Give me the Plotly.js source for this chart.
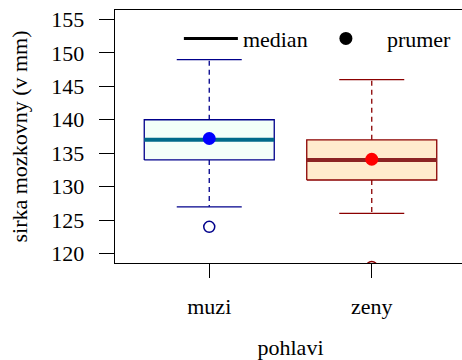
<!DOCTYPE html>
<html>
<head>
<meta charset="utf-8">
<script src="https://cdn.plot.ly/plotly-3.0.1.min.js"></script>
<style>
  html, body { margin: 0; padding: 0; overflow: hidden; background: #ffffff; }
  #chart { width: 466px; height: 360px; }
</style>
</head>
<body>
<div id="chart"></div>
<script>
// ---- data ----
var categories = ['muzi', 'zeny'];
var q1 = [134, 131];
var medians = [137, 134];
var q3 = [140, 137];
var lowerWhisker = [127, 126];
var upperWhisker = [149, 146];
var means = [137.2, 134.1];
var outliers = [[124], [118]];
var yTicks = [120, 125, 130, 135, 140, 145, 150, 155];

// ---- styles ----
var borderColors = ['#00008B', '#8B0000'];
var fillColors = ['#F3FFF9', '#FFEBCD'];
var medianColors = ['#006A8A', '#8B2323'];
var meanColors = ['#0000FF', '#FF0000'];
var FONT = 'Liberation Serif, Times New Roman, serif';
var boxHalf = 0.4, capHalf = 0.2;

var traces = [];
categories.forEach(function (cat, i) {
  var p = i + 1;
  // box
  traces.push({
    type: 'scatter', mode: 'lines', showlegend: false, hoverinfo: 'skip',
    x: [p - boxHalf, p + boxHalf, p + boxHalf, p - boxHalf, p - boxHalf],
    y: [q1[i], q1[i], q3[i], q3[i], q1[i]],
    fill: 'toself', fillcolor: fillColors[i],
    line: { color: borderColors[i], width: 1.3 }
  });
  // whiskers (dashed)
  traces.push({
    type: 'scatter', mode: 'lines', showlegend: false, hoverinfo: 'skip',
    x: [p, p, null, p, p],
    y: [q3[i], upperWhisker[i], null, q1[i], lowerWhisker[i]],
    line: { color: borderColors[i], width: 1.3, dash: '5px,4px' }
  });
  // caps
  traces.push({
    type: 'scatter', mode: 'lines', showlegend: false, hoverinfo: 'skip',
    x: [p - capHalf, p + capHalf, null, p - capHalf, p + capHalf],
    y: [upperWhisker[i], upperWhisker[i], null, lowerWhisker[i], lowerWhisker[i]],
    line: { color: borderColors[i], width: 1.3 }
  });
  // median
  traces.push({
    type: 'scatter', mode: 'lines', showlegend: false, hoverinfo: 'skip',
    x: [p - boxHalf, p + boxHalf],
    y: [medians[i], medians[i]],
    line: { color: medianColors[i], width: 4 }
  });
  // outliers
  traces.push({
    type: 'scatter', mode: 'markers', showlegend: false, hoverinfo: 'skip',
    x: outliers[i].map(function () { return p; }),
    y: outliers[i],
    marker: { symbol: 'circle-open', size: 11, color: borderColors[i], line: { width: 1.5, color: borderColors[i] } }
  });
  // mean
  traces.push({
    type: 'scatter', mode: 'markers', showlegend: false, hoverinfo: 'skip',
    x: [p], y: [means[i]],
    marker: { symbol: 'circle', size: 13, color: meanColors[i] }
  });
});

// legend entries
traces.push({
  type: 'scatter', mode: 'lines', name: 'median', legend: 'legend',
  x: [null], y: [null], line: { color: '#000000', width: 3 }
});
traces.push({
  type: 'scatter', mode: 'markers', name: 'prumer', legend: 'legend2',
  x: [null], y: [null], marker: { color: '#000000', size: 13 }
});

var layout = {
  width: 466, height: 360,
  margin: { l: 115, r: 0, t: 10, b: 97, pad: 0 },
  paper_bgcolor: '#ffffff', plot_bgcolor: '#ffffff',
  font: { family: FONT, size: 22, color: '#000000' },
  hovermode: false,
  showlegend: true,
  legend: {
    x: 0.182, y: 0.97, xanchor: 'left', yanchor: 'top',
    bgcolor: 'rgba(0,0,0,0)', borderwidth: 0, itemwidth: 54,
    font: { family: FONT, size: 22, color: '#000000' }
  },
  legend2: {
    x: 0.541, y: 0.97, xanchor: 'left', yanchor: 'top',
    bgcolor: 'rgba(0,0,0,0)', borderwidth: 0, itemwidth: 72,
    font: { family: FONT, size: 22, color: '#000000' }
  },
  xaxis: {
    range: [0.42, 2.58],
    tickmode: 'array', tickvals: [1, 2], ticktext: categories,
    ticks: 'outside', ticklen: 14, tickwidth: 1.3, tickcolor: '#000000',
    ticklabelstandoff: 9,
    showline: true, linecolor: '#000000', linewidth: 1.3, mirror: true,
    showgrid: false, zeroline: false,
    tickfont: { family: FONT, size: 22 },
    title: { text: 'pohlavi', font: { family: FONT, size: 22 }, standoff: 25 }
  },
  yaxis: {
    range: [118.6, 156.4],
    tickmode: 'array', tickvals: yTicks, ticktext: yTicks.map(String),
    ticks: 'outside', ticklen: 15, tickwidth: 1.3, tickcolor: '#000000',
    ticklabelstandoff: 10,
    showline: true, linecolor: '#000000', linewidth: 1.3, mirror: true,
    showgrid: false, zeroline: false,
    tickfont: { family: FONT, size: 22 },
    title: { text: 'sirka mozkovny (v mm)', font: { family: FONT, size: 22 }, standoff: 17 }
  }
};

Plotly.newPlot('chart', traces, layout, { staticPlot: true, displayModeBar: false });
</script>
</body>
</html>
